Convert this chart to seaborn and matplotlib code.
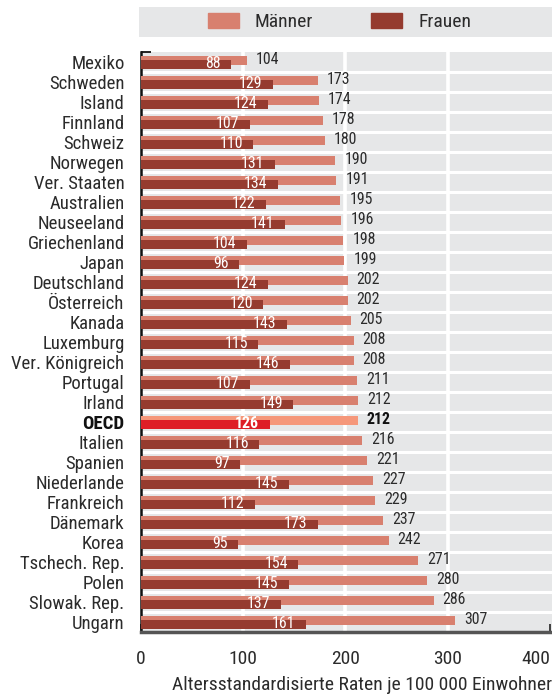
import matplotlib
matplotlib.use("Agg")
import matplotlib.pyplot as plt
import matplotlib.patches as mpatches
from matplotlib.ticker import FixedLocator
import numpy as np
import pandas as pd
import seaborn as sns

countries = ["Mexiko", "Schweden", "Island", "Finnland", "Schweiz", "Norwegen",
             "Ver. Staaten", "Australien", "Neuseeland", "Griechenland", "Japan",
             "Deutschland", "Österreich", "Kanada", "Luxemburg", "Ver. Königreich",
             "Portugal", "Irland", "OECD", "Italien", "Spanien", "Niederlande",
             "Frankreich", "Dänemark", "Korea", "Tschech. Rep.", "Polen",
             "Slowak. Rep.", "Ungarn"]
maenner = [104, 173, 174, 178, 180, 190, 191, 195, 196, 198, 199, 202, 202, 205,
           208, 208, 211, 212, 212, 216, 221, 227, 229, 237, 242, 271, 280, 286, 307]
frauen = [88, 129, 124, 107, 110, 131, 134, 122, 141, 104, 96, 124, 120, 143,
          115, 146, 107, 149, 126, 116, 97, 145, 112, 173, 95, 154, 145, 137, 161]
series_names = ["Männer", "Frauen"]
xticks = [0, 100, 200, 300, 400]
xlabel = "Altersstandardisierte Raten je 100 000 Einwohner"

C_M = "#d8806f"
C_F = "#953b2f"
C_M_OECD = "#f5977a"
C_F_OECD = "#de1e27"
BG = "#e6e7e8"
TXT = "#2b2b2b"

sns.set_theme(style="white")
plt.rcParams["font.family"] = ["Roboto Condensed", "DejaVu Sans"]

n = len(countries)
pos = np.arange(n)
df = pd.DataFrame({"land": countries, "pos": pos, "m": maenner, "f": frauen})
df["pos_m"] = df["pos"] - 0.09
df["pos_f"] = df["pos"] + 0.12

fig = plt.figure(figsize=(5.52, 6.97), dpi=100)
ax = fig.add_axes([140.5 / 552, 1 - 632 / 697, 411.5 / 552, 580 / 697])
ax.set_facecolor(BG)

sns.barplot(data=df, x="m", y="pos_m", orient="y", native_scale=True, color=C_M,
            width=0.45, ax=ax, saturation=1, linewidth=0, zorder=3)
n_m = len(ax.patches)
sns.barplot(data=df, x="f", y="pos_f", orient="y", native_scale=True, color=C_F,
            width=0.45, ax=ax, saturation=1, linewidth=0, zorder=4)

oecd = countries.index("OECD")
patches = list(ax.patches)
patches[oecd].set_facecolor(C_M_OECD)
patches[n_m + oecd].set_facecolor(C_F_OECD)

ax.set_xlim(0, 401.5)
ax.set_ylim(n - 0.5, -0.5)

# grid
ax.xaxis.set_major_locator(FixedLocator(xticks))
ax.yaxis.set_major_locator(FixedLocator(pos))
ax.yaxis.set_minor_locator(FixedLocator(np.arange(-0.5, n - 0.4, 1.0)))
for xv in [100, 200, 300]:
    ax.axvline(xv, color="white", lw=2.6, zorder=1)
for yv in np.arange(0.5, n - 0.5, 1.0):
    ax.axhline(yv, color="white", lw=2.2, zorder=1)

ax.set_yticklabels(countries)
for lbl, c in zip(ax.get_yticklabels(), countries):
    lbl.set_fontsize(13.5)
    lbl.set_color(TXT)
    if c == "OECD":
        lbl.set_fontweight("bold")
        lbl.set_color("#111111")
ax.tick_params(axis="y", which="major", length=0, pad=11.5)
ax.tick_params(axis="y", which="minor", length=7, width=1.3, direction="in",
               color="#111111", left=True)
ax.set_xticklabels([str(t) for t in xticks])
ax.get_xticklabels()[-1].set_horizontalalignment("right")
ax.tick_params(axis="x", which="major", length=6, width=1.3, direction="in",
               color="#333333", labelsize=14, labelcolor=TXT, pad=13, bottom=True)
ax.set_xlabel(xlabel, fontsize=14, color=TXT, loc="right", labelpad=6)
ax.set_ylabel("")

for side in ["top", "right"]:
    ax.spines[side].set_visible(False)
ax.spines["left"].set_color("#111111")
ax.spines["left"].set_linewidth(1.8)
ax.spines["bottom"].set_color("#555555")
ax.spines["bottom"].set_linewidth(2.5)

# value labels
for i in range(n):
    bold = countries[i] == "OECD"
    ax.annotate(str(maenner[i]), (maenner[i], pos[i] - 0.1), xytext=(6.5, 0),
                textcoords="offset points", ha="left", va="center",
                fontsize=11.4, color="#111111" if bold else TXT,
                fontweight="bold" if bold else "normal", zorder=6)
    ax.annotate(str(frauen[i]), (frauen[i], pos[i] + 0.1), xytext=(-7.5, 0),
                textcoords="offset points", ha="right", va="center",
                fontsize=11.4, color="white",
                fontweight="bold" if bold else "normal", zorder=6)

# legend band
fig.patches.append(mpatches.Rectangle((139 / 552, 1 - 37 / 697), 413 / 552, 30 / 697,
                                      transform=fig.transFigure, facecolor=BG,
                                      edgecolor="none", zorder=0))
handles = [mpatches.Patch(color=C_M, label=series_names[0]),
           mpatches.Patch(color=C_F, label=series_names[1])]
fig.legend(handles=handles, loc="center", bbox_to_anchor=(339.5 / 552, 1 - 22 / 697),
           ncol=2, frameon=False, fontsize=14, handlelength=1.6, handleheight=0.85,
           columnspacing=3.0, handletextpad=0.82, labelcolor=TXT)

fig.savefig("out.png", dpi=100, facecolor="white")
